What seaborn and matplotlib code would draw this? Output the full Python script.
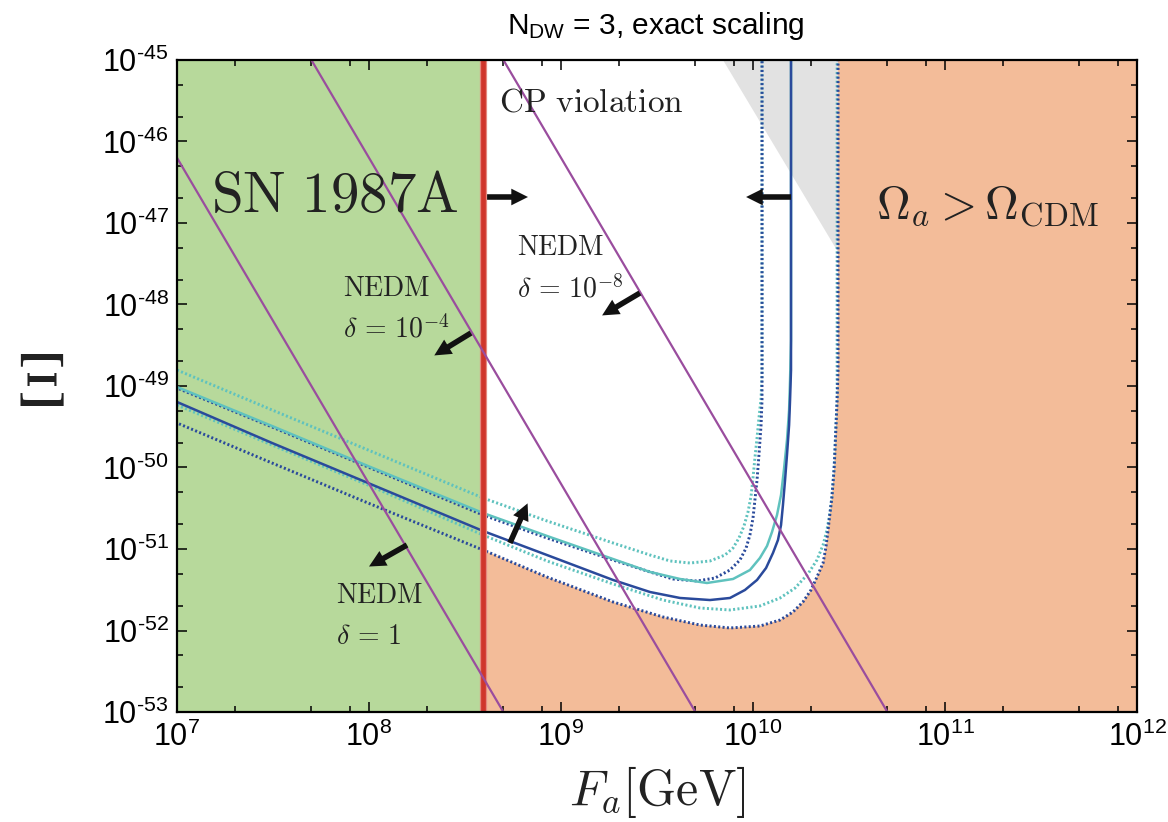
import numpy as np
import pandas as pd
import matplotlib
matplotlib.use("Agg")
import matplotlib.pyplot as plt
from matplotlib.ticker import FixedLocator, NullFormatter
import seaborn as sns

# ---------------- data (log10 values) ----------------
FA_MIN_EXP, FA_MAX_EXP = 7, 12
XI_MIN_EXP, XI_MAX_EXP = -53, -45
X_TICK_EXPS = [7, 8, 9, 10, 11, 12]
Y_TICK_EXPS = [-53, -52, -51, -50, -49, -48, -47, -46, -45]
X_TICK_LABELS = [r"$10^{%d}$" % e for e in X_TICK_EXPS]
Y_TICK_LABELS = [r"$10^{\text{-}%d}$" % (-e) for e in Y_TICK_EXPS]

SN_BOUND_LOGFA = 8.594        # SN 1987A bound (red line)
GRAY_LOGFA = [9.846, 10.443, 10.443]
GRAY_LOGXI = [-45.0, -45.0, -47.36]

# navy solid
NS_LOGFA = [7.000, 7.495, 7.995, 8.594, 8.927, 9.271, 9.464, 9.620, 9.776, 9.880, 9.958,
            10.021, 10.068, 10.104, 10.130, 10.146, 10.156, 10.167, 10.177, 10.188, 10.193,
            10.198, 10.198]
NS_LOGXI = [-49.196, -49.699, -50.190, -50.779, -51.074, -51.380, -51.528, -51.601, -51.626, -51.601, -51.503,
            -51.380, -51.233, -51.049, -50.890, -50.706, -50.460, -50.153, -49.847, -49.479, -49.172,
            -48.804, -45.0]
# cyan solid
CS_LOGFA = [7.000, 7.495, 7.995, 8.594, 8.927, 9.271, 9.464, 9.620, 9.760, 9.896, 9.984,
            10.036, 10.073, 10.099, 10.125, 10.146, 10.161, 10.177, 10.188, 10.193, 10.198, 10.198]
CS_LOGXI = [-49.012, -49.491, -49.982, -50.558, -50.840, -51.123, -51.282, -51.368, -51.417, -51.368, -51.258,
            -51.110, -50.963, -50.791, -50.583, -50.337, -50.031, -49.663, -49.294, -48.926, -48.436, -45.0]
# navy dotted, upper
NDU_LOGFA = [7.000, 7.495, 7.995, 8.594, 8.927, 9.271, 9.464, 9.583, 9.708, 9.802, 9.880,
             9.932, 9.964, 9.984, 10.000, 10.010, 10.021, 10.031, 10.042, 10.047, 10.047]
NDU_LOGXI = [-49.025, -49.503, -49.994, -50.583, -50.865, -51.135, -51.282, -51.368, -51.393, -51.356, -51.258,
             -51.135, -50.988, -50.828, -50.620, -50.399, -50.153, -49.847, -49.479, -49.172, -45.0]
# cyan dotted, upper
CDU_LOGFA = [7.000, 7.495, 7.995, 8.594, 8.927, 9.271, 9.464, 9.568, 9.672, 9.776, 9.854,
             9.896, 9.927, 9.953, 9.974, 9.990, 10.000, 10.010, 10.021, 10.031, 10.042, 10.047, 10.047]
CDU_LOGXI = [-48.804, -49.294, -49.785, -50.374, -50.656, -50.926, -51.074, -51.147, -51.172, -51.147, -51.074,
             -50.988, -50.865, -50.718, -50.546, -50.350, -50.129, -49.883, -49.638, -49.393, -49.147, -48.865, -45.0]
# cyan dotted, lower
CDL_LOGFA = [7.000, 7.495, 7.995, 8.594, 8.927, 9.271, 9.531, 9.724, 9.880, 10.036, 10.141,
             10.219, 10.286, 10.333, 10.365, 10.385, 10.401, 10.411, 10.422, 10.427, 10.432, 10.438, 10.438]
CDL_LOGXI = [-49.233, -49.724, -50.215, -50.828, -51.147, -51.429, -51.626, -51.724, -51.748, -51.699, -51.601,
             -51.479, -51.307, -51.135, -50.951, -50.767, -50.558, -50.362, -50.031, -49.785, -49.479, -49.172, -45.0]
# navy dotted, lower (also the edge of the Omega_a > Omega_CDM region)
NDL_LOGFA = [7.000, 7.495, 7.995, 8.594, 8.927, 9.271, 9.531, 9.724, 9.880, 10.036, 10.141,
             10.208, 10.260, 10.302, 10.333, 10.365, 10.380, 10.391, 10.401, 10.411, 10.422, 10.427,
             10.432, 10.438, 10.443, 10.443]
NDL_LOGXI = [-49.454, -49.945, -50.436, -51.012, -51.344, -51.650, -51.834, -51.933, -51.969, -51.945, -51.871,
             -51.773, -51.650, -51.503, -51.344, -51.172, -50.975, -50.767, -50.558, -50.362, -50.031, -49.785,
             -49.503, -49.172, -48.804, -45.0]

# NEDM lines (Xi ~ Fa^-4), start / end points
NEDM_DELTAS = ["1", "10^{-4}", "10^{-8}"]
NEDM_LOGFA_START = [7.0, 7.7, 8.7]
NEDM_LOGXI_START = [-46.2, -45.0, -45.0]
NEDM_LOGFA_END = [8.7, 9.7, 10.7]
NEDM_LOGXI_END = [-53.0, -53.0, -53.0]

# arrows: (tail logFa, tail logXi, head logFa, head logXi)
ARROWS = [
    (8.615, -46.681, 8.828, -46.681),
    (10.198, -46.681, 9.964, -46.681),
    (8.531, -48.350, 8.340, -48.625),
    (9.411, -47.859, 9.214, -48.134),
    (8.198, -50.951, 8.000, -51.215),
    (8.734, -50.926, 8.826, -50.440),
]

# ---------------- style ----------------
GREEN = "#b7d99b"
ORANGE = "#f3bc99"
GRAY = "#e2e2e2"
RED = "#d0362c"
PURPLE = "#9a4d9e"
NAVY = "#2a4a9b"
CYAN = "#5fc2be"
TXT = "#222222"

sns.set_theme(style="white")
plt.rcParams["font.family"] = ["Liberation Sans", "DejaVu Sans"]
plt.rcParams["mathtext.fontset"] = "custom"
plt.rcParams["mathtext.rm"] = "Liberation Sans"
plt.rcParams["mathtext.it"] = "Liberation Sans:italic"
plt.rcParams["mathtext.bf"] = "Liberation Sans:bold"

fig = plt.figure(figsize=(11.68, 8.22), dpi=100)
fig.patch.set_facecolor("white")
ax = fig.add_axes([177 / 1168, 110 / 822, 960 / 1168, 652 / 822])
ax.set_xscale("log")
ax.set_yscale("log")
ax.set_xlim(10.0 ** FA_MIN_EXP, 10.0 ** FA_MAX_EXP)
ax.set_ylim(10.0 ** XI_MIN_EXP, 10.0 ** XI_MAX_EXP)
ax.set_facecolor("white")

p = lambda v: 10.0 ** np.asarray(v, dtype=float)

# regions
ax.axvspan(10.0 ** FA_MIN_EXP, 10.0 ** SN_BOUND_LOGFA, color=GREEN, lw=0, zorder=0)
ndl_fa = np.array(NDL_LOGFA)
ndl_xi = np.array(NDL_LOGXI)
m = ndl_fa >= SN_BOUND_LOGFA
poly_fa = np.concatenate([[SN_BOUND_LOGFA], ndl_fa[m], [FA_MAX_EXP, FA_MAX_EXP]])
poly_xi = np.concatenate([[XI_MIN_EXP], ndl_xi[m], [XI_MAX_EXP, XI_MIN_EXP]])
ax.fill(p(poly_fa), p(poly_xi), color=ORANGE, lw=0, zorder=0)
ax.fill(p(GRAY_LOGFA), p(GRAY_LOGXI), color=GRAY, lw=0, zorder=0)

# curves
def curve(lfa, lxi, color, dotted=False, offset=0.0, z=2):
    df = pd.DataFrame({"Fa": p(lfa), "Xi": p(lxi)})
    kw = dict(lw=1.8, solid_joinstyle="round")
    if dotted:
        kw = dict(lw=2.1, linestyle=(offset, (0.7, 0.8)), dash_capstyle="butt")
    sns.lineplot(data=df, x="Fa", y="Xi", sort=False, estimator=None, color=color,
                 ax=ax, zorder=z, legend=False, **kw)

curve(CDU_LOGFA, CDU_LOGXI, CYAN, dotted=True, offset=0.0)
curve(CDL_LOGFA, CDL_LOGXI, CYAN, dotted=True, offset=0.0)
curve(NDU_LOGFA, NDU_LOGXI, NAVY, dotted=True, offset=0.75)
curve(NDL_LOGFA, NDL_LOGXI, NAVY, dotted=True, offset=0.75)
curve(CS_LOGFA, CS_LOGXI, CYAN)
curve(NS_LOGFA, NS_LOGXI, NAVY)

# SN 1987A bound
ax.axvline(10.0 ** SN_BOUND_LOGFA, color="#e58a80", lw=5.2, zorder=3)
ax.axvline(10.0 ** SN_BOUND_LOGFA, color=RED, lw=3.4, zorder=3)

# NEDM lines
for i in range(len(NEDM_DELTAS)):
    df = pd.DataFrame({"Fa": p([NEDM_LOGFA_START[i], NEDM_LOGFA_END[i]]),
                       "Xi": p([NEDM_LOGXI_START[i], NEDM_LOGXI_END[i]])})
    sns.lineplot(data=df, x="Fa", y="Xi", sort=False, estimator=None, color=PURPLE,
                 lw=1.6, ax=ax, zorder=4, legend=False)

# arrows
for (tx, ty, hx, hy) in ARROWS:
    ax.annotate("", xy=(10 ** hx, 10 ** hy), xytext=(10 ** tx, 10 ** ty),
                arrowprops=dict(arrowstyle="simple,head_length=0.6,head_width=0.6,tail_width=0.2",
                                mutation_scale=20, fc="#111111", ec="none",
                                shrinkA=0, shrinkB=0), zorder=6)

# texts
def ctext(lx, ly, s, size, ha="left", va="baseline"):
    ax.text(10 ** lx, 10 ** ly, s, fontsize=size, color=TXT, ha=ha, va=va,
            math_fontfamily="cm", zorder=7)

ctext(7.823, -46.681, r"$\mathrm{SN\ 1987A}$", 41, ha="center", va="center")
ctext(8.677, -45.53, r"$\mathrm{CP\ violation}$", 24, va="center")
ctext(11.219, -46.80, r"$\Omega_a > \Omega_{\mathrm{CDM}}$", 33.5, ha="center", va="center")

ctext(7.865, -47.896, r"$\mathrm{NEDM}$", 20)
ctext(7.865, -48.399, r"$\delta\, =\, %s$" % NEDM_DELTAS[1], 20)
ctext(8.771, -47.393, r"$\mathrm{NEDM}$", 20)
ctext(8.771, -47.908, r"$\delta\, =\, %s$" % NEDM_DELTAS[2], 20)
ctext(7.828, -51.663, r"$\mathrm{NEDM}$", 20)
ctext(7.828, -52.166, r"$\delta\, =\, %s$" % NEDM_DELTAS[0], 20)

# axes, ticks
ax.xaxis.set_major_locator(FixedLocator(p(X_TICK_EXPS)))
ax.yaxis.set_major_locator(FixedLocator(p(Y_TICK_EXPS)))
ax.set_xticklabels(X_TICK_LABELS)
ax.set_yticklabels(Y_TICK_LABELS)
xminor = [10.0 ** e * k for e in X_TICK_EXPS[:-1] for k in (2, 5, 8)]
yminor = [10.0 ** e * k for e in Y_TICK_EXPS[:-1] for k in (2, 5)]
ax.xaxis.set_minor_locator(FixedLocator(xminor))
ax.yaxis.set_minor_locator(FixedLocator(yminor))
ax.xaxis.set_minor_formatter(NullFormatter())
ax.yaxis.set_minor_formatter(NullFormatter())
ax.tick_params(which="both", direction="in", top=True, right=True, bottom=True, left=True,
               color="black", width=1.1)
ax.tick_params(which="major", length=7)
ax.tick_params(which="minor", length=4)
ax.tick_params(axis="x", which="major", labelsize=22, pad=7, labelcolor="black")
ax.tick_params(axis="y", which="major", labelsize=22, pad=6, labelcolor="black")
for s in ax.spines.values():
    s.set_color("black")
    s.set_linewidth(1.6)
    s.set_zorder(8)

ax.set_xlabel(r"$F_a[\mathrm{GeV}]$", fontsize=36, math_fontfamily="cm", color=TXT)
ax.xaxis.set_label_coords(0.5, -0.122)
ax.xaxis.label.set_va("center")
ax.set_ylabel(r"$\Xi$", fontsize=54, math_fontfamily="cm", rotation=0, color=TXT)
ax.yaxis.set_label_coords(-0.1427, 0.4985)
ax.yaxis.label.set_va("center")
ax.yaxis.label.set_ha("center")

fig.text(656 / 1168, 1 - 26 / 822, r"$\mathregular{N_{DW}}$ = 3, exact scaling",
         fontsize=21.5, ha="center", va="center", color="black")

fig.savefig("out.png", dpi=100, facecolor="white")
